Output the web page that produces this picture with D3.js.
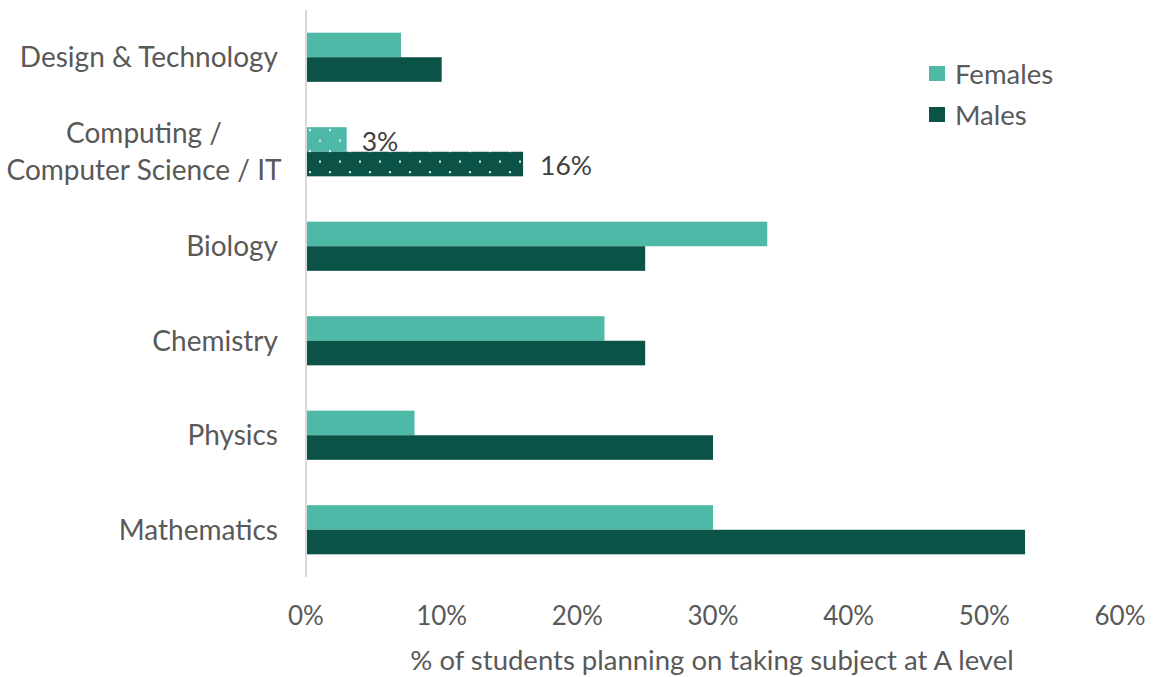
<!DOCTYPE html>
<html>
<head>
<meta charset="utf-8">
<script src="https://cdn.jsdelivr.net/npm/d3@7"></script>
<style>
  body { margin: 0; background: #fff; }
  text { font-family: Lato, "Open Sans", sans-serif; }
</style>
</head>
<body>
<script>
const width = 1153, height = 677

const subjects = ['Design & Technology', 'Computing / Computer Science / IT', 'Biology', 'Chemistry', 'Physics', 'Mathematics']
const females = [7, 3, 34, 22, 8, 30]
const males = [10, 16, 25, 25, 30, 53]
const xTicks = [0, 10, 20, 30, 40, 50, 60]
const series = ['Females', 'Males']
const colors = { Females: '#4FB9A8', Males: '#0B5247' }

const svg = d3.select('body').append('svg')
    .attr('width', width)
    .attr('height', height)

const x = d3.scaleLinear().domain([0, 60]).range([306, 1120])
const y = d3.scaleBand().domain(subjects).range([10, 577]).paddingInner(0.48).paddingOuter(0.24)
const sub = d3.scaleBand().domain(series).range([0, y.bandwidth()])

// dotted pattern for the computing bars
const defs = svg.append('defs')
series.forEach(s => {
    const p = defs.append('pattern')
        .attr('id', 'dots-' + s)
        .attr('patternUnits', 'userSpaceOnUse')
        .attr('width', 20).attr('height', 21)
        .attr('x', 306).attr('y', 0)
    p.append('rect').attr('width', 20).attr('height', 21).attr('fill', colors[s])
    p.append('rect').attr('x', 3).attr('y', 2).attr('width', 2).attr('height', 2).attr('fill', '#e2f1ee')
    p.append('rect').attr('x', 13).attr('y', 12.5).attr('width', 2).attr('height', 2).attr('fill', '#e2f1ee')
})

const rows = subjects.map((d, i) => ({ subject: d, Females: females[i], Males: males[i] }))

const groups = svg.selectAll('g.cat')
    .data(rows)
    .enter()
    .append('g')
        .attr('class', 'cat')
        .attr('transform', d => `translate(0,${y(d.subject)})`)

groups.selectAll('rect')
    .data(d => series.map(s => ({ s: s, v: d[s], subject: d.subject })))
    .enter()
    .append('rect')
        .attr('x', x(0))
        .attr('y', d => sub(d.s))
        .attr('width', d => x(d.v) - x(0))
        .attr('height', sub.bandwidth())
        .attr('fill', d => d.subject.startsWith('Computing') ? `url(#dots-${d.s})` : colors[d.s])

// data labels only on computing
groups.filter(d => d.subject.startsWith('Computing'))
    .selectAll('text.lbl')
    .data(d => series.map(s => ({ s: s, v: d[s] })))
    .enter()
    .append('text')
        .attr('class', 'lbl')
        .attr('x', d => x(d.v) + (d.s === 'Females' ? 15 : 17))
        .attr('y', d => sub(d.s) + sub.bandwidth() / 2 + 2)
        .attr('dy', '0.35em')
        .style('font-size', '26.5px')
        .style('fill', '#404040')
        .text(d => d.v + '%')

// y axis line
svg.append('line')
    .attr('x1', x(0)).attr('x2', x(0))
    .attr('y1', 10).attr('y2', 577)
    .attr('stroke', '#d9d9d9').attr('stroke-width', 2)

// category labels
const catLabels = svg.selectAll('text.cat')
    .data(subjects)
    .enter()
    .append('text')
        .attr('class', 'cat')
        .attr('text-anchor', 'end')
        .style('font-size', '28px')
        .style('fill', '#595959')

catLabels.each(function(d) {
    const t = d3.select(this)
    const cy = y(d) + y.bandwidth() / 2
    if (d.startsWith('Computing')) {
        t.attr('text-anchor', 'middle')
        t.append('tspan').attr('x', 144).attr('y', cy - 19).attr('dy', '0.35em').text('Computing /')
        t.append('tspan').attr('x', 144).attr('y', cy + 18).attr('dy', '0.35em').text('Computer Science / IT')
    } else {
        t.attr('x', 278).attr('y', cy).attr('dy', '0.35em').text(d)
    }
})

// x tick labels
svg.selectAll('text.tick')
    .data(xTicks)
    .enter()
    .append('text')
        .attr('class', 'tick')
        .attr('x', d => x(d))
        .attr('y', 625)
        .attr('text-anchor', 'middle')
        .style('font-size', '26px')
        .style('fill', '#595959')
        .text(d => d + '%')

svg.append('text')
    .attr('x', 712)
    .attr('y', 670)
    .attr('text-anchor', 'middle')
    .style('font-size', '27.5px')
    .style('fill', '#595959')
    .text('% of students planning on taking subject at A level')

// legend
const legend = svg.selectAll('g.legend')
    .data(series)
    .enter()
    .append('g')
        .attr('class', 'legend')
        .attr('transform', (d, i) => `translate(929,${66 + i * 41})`)

legend.append('rect')
    .attr('width', 16).attr('height', 15)
    .attr('fill', d => colors[d])

legend.append('text')
    .attr('x', 26)
    .attr('y', 8)
    .attr('dy', '0.35em')
    .style('font-size', '27.5px')
    .style('fill', '#595959')
    .text(d => d)
</script>
</body>
</html>
